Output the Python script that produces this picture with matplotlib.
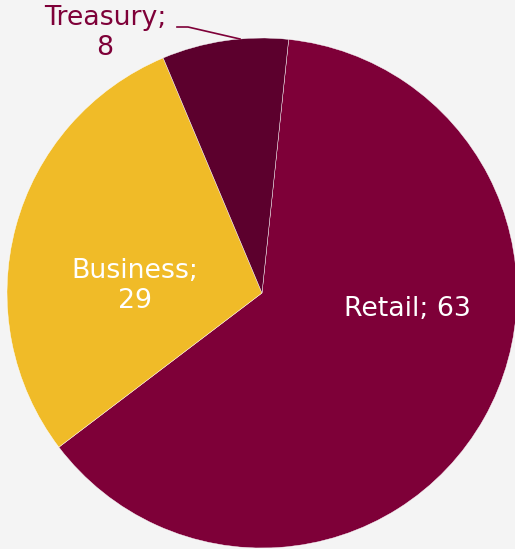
import matplotlib
matplotlib.use("Agg")
import matplotlib.pyplot as plt

# Share of revenue by segment
segments = ["Retail", "Business", "Treasury"]
shares = [63, 29, 8]
colors = ["#7E0038", "#F0BB28", "#5C002D"]

W, H, DPI = 515, 549, 100
fig = plt.figure(figsize=(W / DPI, H / DPI), dpi=DPI)
fig.patch.set_facecolor("#F4F4F4")

# pie centre at (262, 293) px, radius 255 px
cx, cy, r = 262, 293, 255
ax = fig.add_axes([(cx - r) / W, (H - cy - r) / H, 2 * r / W, 2 * r / H])
ax.set_facecolor("none")

wedges, _ = ax.pie(shares, colors=colors, startangle=84, counterclock=False,
                   radius=1.0, center=(0, 0),
                   wedgeprops=dict(edgecolor="white", linewidth=0.3))
ax.set_xlim(-1, 1)
ax.set_ylim(-1, 1)
ax.set_aspect("equal")
ax.axis("off")

def px(x, y):
    """Figure pixel (from top-left) -> data coords of the pie axes."""
    return ((x - cx) / r, (cy - y) / r)

fs = 19.3
ax.text(*px(407, 309), f"{segments[0]}; {shares[0]}", color="white",
        fontsize=fs, ha="center", va="center")
ax.text(*px(135, 286), f"{segments[1]};\n{shares[1]}", color="white",
        fontsize=fs, ha="center", va="center", linespacing=1.2)
ax.text(*px(105, 33), f"{segments[2]};\n{shares[2]}", color=colors[0],
        fontsize=fs, ha="center", va="center", linespacing=1.2,
        clip_on=False)

# leader line for the Treasury label
pts = [px(177, 27), px(188, 27), px(240, 39)]
ax.plot([p[0] for p in pts], [p[1] for p in pts], color=colors[0],
        linewidth=1.2, clip_on=False)

fig.savefig("out.png", dpi=DPI, facecolor=fig.get_facecolor())
